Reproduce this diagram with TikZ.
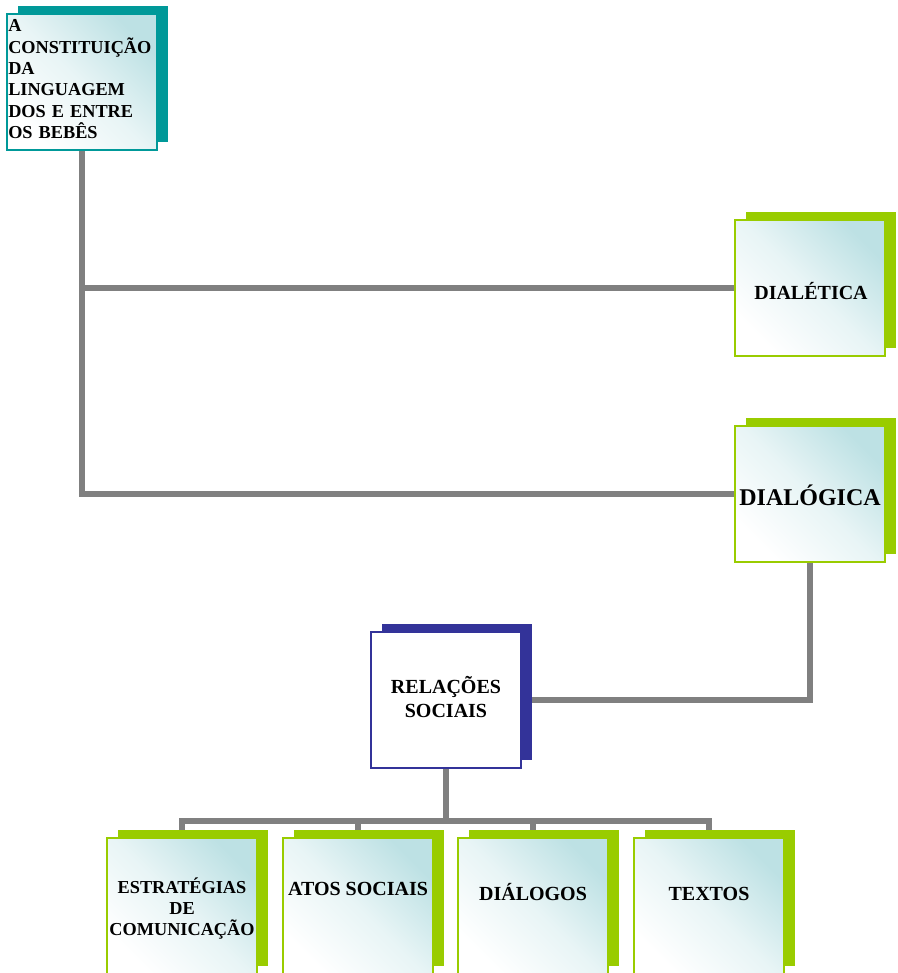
\documentclass[tikz,border=0pt]{standalone}
\usepackage{fontspec}
\setmainfont{Liberation Serif}
\usetikzlibrary{positioning,shadows,backgrounds}

\definecolor{tealbox}{HTML}{009999}
\definecolor{limebox}{HTML}{99CC00}
\definecolor{navybox}{HTML}{333399}
\definecolor{linkgray}{HTML}{808080}
\definecolor{paneltint}{RGB}{189,225,228}

\tikzset{
  panel/.style={draw=#1, line width=1.5pt, minimum width=112.5pt, minimum height=102pt, inner sep=0pt,
    top color=paneltint, bottom color=white, middle color=paneltint!35, shading angle=-45,
    drop shadow={shadow xshift=8.25pt, shadow yshift=6pt, fill=#1, opacity=1}},
  whitepanel/.style={draw=#1, line width=1.5pt, minimum width=112.5pt, minimum height=102pt, inner sep=0pt,
    fill=white, drop shadow={shadow xshift=8.25pt, shadow yshift=6pt, fill=#1, opacity=1}},
  link/.style={draw=linkgray, line width=4.5pt},
  caption/.style={font=\bfseries\fontsize{15}{18}\selectfont, align=center, inner sep=0pt, anchor=base},
}

\begin{document}
\begin{tikzpicture}[x=0.75pt,y=-0.75pt]
  \useasboundingbox (0,0) rectangle (897,973);
  % the boxes
  \node[panel=tealbox] (title) at (82,82) {};
  \node[panel=limebox] (dialetica) at (810,288) {};
  \node[panel=limebox] (dialogica) at (810,494) {};
  \node[whitepanel=navybox] (relacoes) at (446,700) {};
  \node[panel=limebox] (estrategias) at (182,906) {};
  \node[panel=limebox] (atos) at (357.5,906) {};
  \node[panel=limebox] (dialogos) at (533,906) {};
  \node[panel=limebox] (textos) at (708.5,906) {};
  % their texts
  \node[caption, anchor=base west, align=left, text width=110pt, font=\bfseries\fontsize{13.7}{16}\selectfont] (title-txt) at (8,31.7)
    {A\\CONSTITUIÇÃO\\DA\\LINGUAGEM\\DOS E ENTRE\\OS BEBÊS};
  \node[caption] (dialetica-txt) at (811,300) {DIALÉTICA};
  \node[caption, font=\bfseries\fontsize{18}{21}\selectfont] (dialogica-txt) at (810,505) {DIALÓGICA};
  \node[caption, text width=110pt] (relacoes-txt) at (446,693) {RELAÇÕES\\SOCIAIS};
  \node[caption, text width=112pt, font=\bfseries\fontsize{13.7}{15.75}\selectfont] (estrategias-txt) at (182,893)
    {ESTRATÉGIAS\\DE\\COMUNICAÇÃO};
  \node[caption] (atos-txt) at (358,895) {ATOS SOCIAIS};
  \node[caption] (dialogos-txt) at (533,900) {DIÁLOGOS};
  \node[caption] (textos-txt) at (709,900) {TEXTOS};
  % connectors behind the boxes
  \begin{scope}[on background layer]
    \coordinate (bar) at (446,821);
    \draw[link] (title.south) |- (dialogica.west);
    \draw[link] (title.south |- dialetica.west) -- (dialetica.west);
    \draw[link] (dialogica.south) |- (relacoes.east);
    \draw[link] (relacoes.south) -- (bar);
    \draw[link] (estrategias.north) |- (textos.north |- bar) -- (textos.north);
    \foreach \b in {atos,dialogos}
      \draw[link] (\b.north |- bar) -- (\b.north);
  \end{scope}
\end{tikzpicture}
\end{document}
